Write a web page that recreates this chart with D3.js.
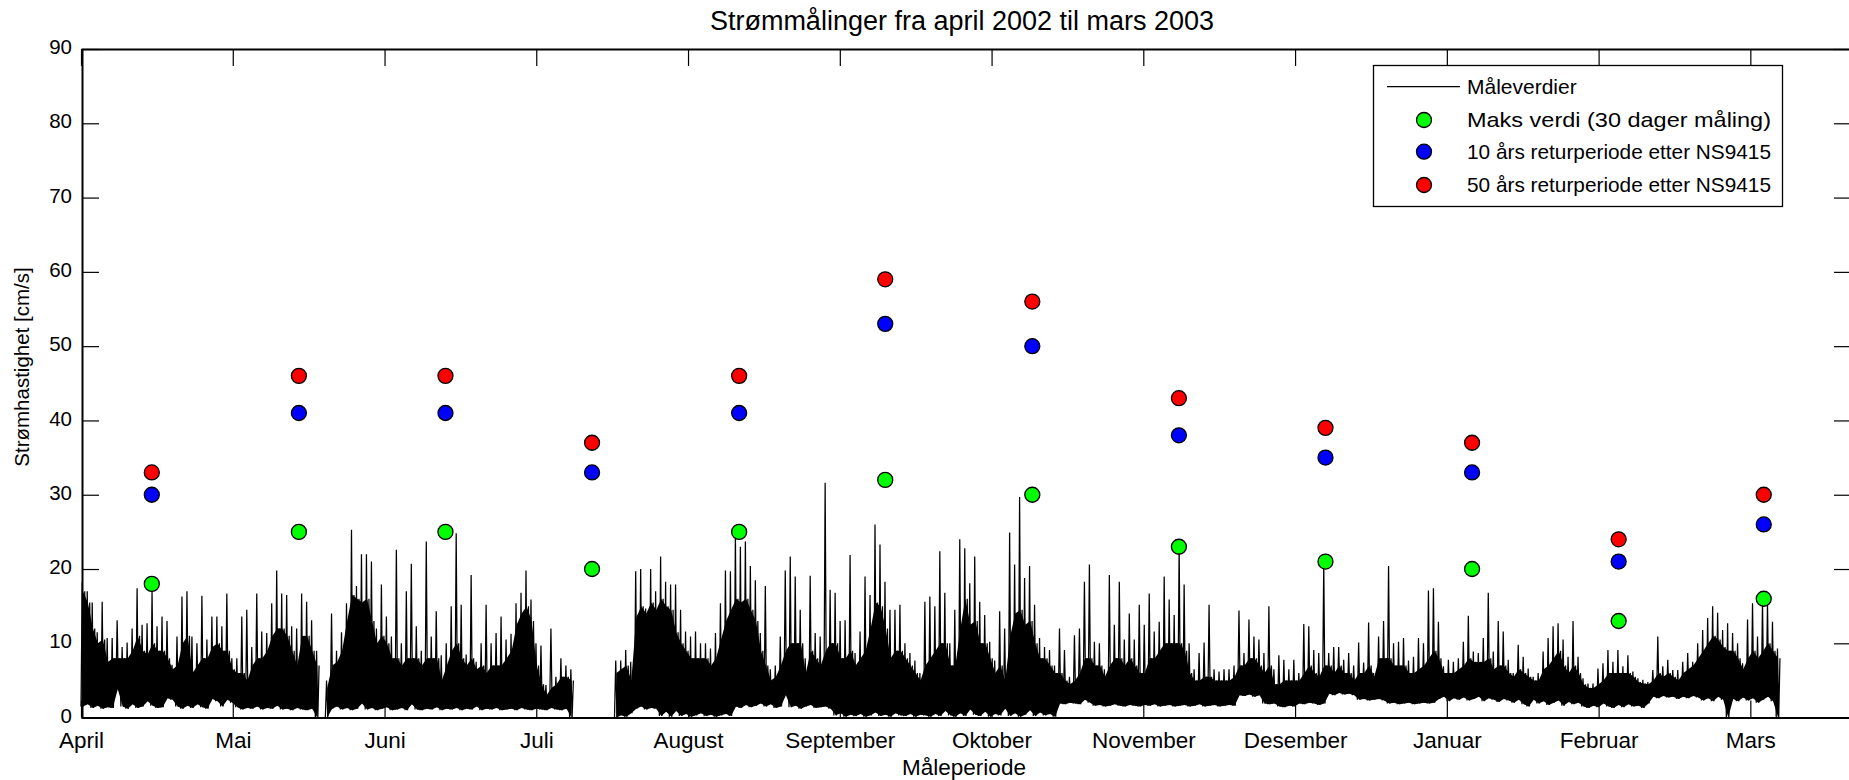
<!DOCTYPE html>
<html><head><meta charset="utf-8">
<script src="https://cdn.jsdelivr.net/npm/d3@7"></script>
<style>body{margin:0;background:#fff}svg{display:block}text{font-family:"Liberation Sans",Arial,Helvetica,sans-serif;fill:#000}</style>
</head><body>
<svg id="c" width="1849" height="780"></svg>
<script>
// ---------- data ----------
const manedsNavn = ["April","Mai","Juni","Juli","August","September","Oktober","November","Desember","Januar","Februar","Mars"];
const manedsStart = [0,30.44,60.88,91.31,121.75,152.19,182.63,213.06,243.5,273.94,304.38,334.81];
const yTicks = [0,10,20,30,40,50,60,70,80,90];

// daily readings of the measured current (cm/s), day 0 = 1 April 2002
const dagMaks = [18.3,17,15.5,11.5,15.6,10.7,10.7,13.1,9.5,10.1,
12,17.4,12.5,12.7,17,12.3,13.6,13,7.1,10.9,
16.3,17,10.9,10,16.4,10.5,13.6,13.6,12.3,16.7,
8,8,13.6,14.5,9.5,16.7,11.6,11.4,15.4,19.8,
16.7,16.5,12.3,12,16.7,15.6,13.1,9,null,5,
14,9,11.5,15.4,25.3,17.7,22,22,21,12,
17.9,13.6,10.9,22.6,10,17,20.7,12.3,9,23.7,
10.9,14.3,8.4,10,15,24.8,15.2,8.5,19.2,7.5,
10,15.2,10,11.4,13.6,10.5,11.3,15.4,16.8,19.8,
15.9,10,9.7,4.4,12,5.5,8,7,6.5,null,
null,null,null,null,null,null,null,7.7,7.7,9.1,
7.5,19.7,20,14.7,20,17,21.7,18.3,17.9,17.9,
14.5,11.6,10.9,11.6,10,10,9.3,11.4,15.4,19.8,
19.7,24.5,23,23.7,20.4,18.5,11.4,17.7,6.5,7,
10.9,19.8,21.7,19,14.5,8,19.1,11.4,10.9,31.6,
17.2,16.8,13,13.1,21.9,8.7,11.6,19,16.5,26,
23.3,18.3,14.5,14.5,15.2,10,8.7,7.7,6,15.6,
16.3,15,22.4,16.8,10,14.5,24,22.8,18.1,21.7,
15.6,13.8,10.2,7.7,14.3,12,24.9,20.6,29.7,18.8,
20.4,15.2,10.7,9.5,9.1,7,12,9.1,5.5,11.1,
12,18.3,20.6,10.2,10,6.5,19.2,12.5,18.3,10.5,
14,10.5,15.2,12.5,16.7,11.6,12.9,19,15.9,13.8,
23.1,17.9,10,6.5,8.7,10.1,15.2,6.5,6.2,6.5,
6.5,7,14.4,8.7,13.2,10.9,10.5,8.7,15,6.5,
8.4,7.8,6.5,7.8,6,12.6,12.3,9.1,8.7,20.8,
8.7,9.5,9.5,7.8,8.7,7,10.1,7.4,12.8,6,
10.9,13,20.4,10,10.2,10.7,7.7,8.2,10.7,10,
17.1,17.4,12.9,6.9,7.8,7.5,8,10.2,13.7,8.9,
8.7,10.7,16.8,8.9,13,11.6,7.8,6,9.8,8.2,
6.6,5.5,6,8.9,10.7,12.3,12.7,10.5,8.2,13,
8.2,5.3,4.6,4.6,6.6,7.3,9.1,7.5,9.1,6.9,
8.4,6.2,5.3,5.1,4.8,6.4,10.9,6.9,7.8,6.4,
6.4,7.5,8.7,7.5,10,11.8,13.4,15,14.1,11.8,
12.7,11.4,10,7.3,13.2,15.4,10.9,15.6,15.4,12.9,9.3];

const dagNiva = [17,15.5,12,10,10.5,7.5,8,8,8,8,
9,11,9,8.5,10,9,9,8,6.5,7,
10,11,6,7,8,8,9.5,10,9,9,
6.5,6,6,5,7,8,8,9,11,12,
12,11,9,7,11,11,9,7,null,4,
7,7.5,9,13,16.5,16,15.5,16,13,10,
11,10,8,8,7,8,8,8,7,8,
8,8,5,7,9,10,8,7,8,6.5,
7,6,7,7,7,8,9,12.5,14,15,
13,7,4.5,3,4,4.5,5.5,5.5,5,null,
null,null,null,null,null,null,null,6,6.5,7,
5,13.5,15,14,15.5,14.5,16,15,14.5,11.5,
10,9,8,8,8,8,7,8,10.5,13,
14.5,16,15.5,16,14.5,13,9,7,5,5.5,
7,9,10,10,10,6,9,8,7,9,
10,10,8,8,9,7,8,9,12,15.5,
15,12,8,9,9,8,7,6,5,7,
8,9,10,10,7,7,12,16,12.5,13,
10,10,8,6,7,5,11,14,14.5,12.5,
13,10,8,8,7,6,6,5,4.5,5,
6,8,8,7,7,5.5,7,8,8,7,
8,7,6,6,8,8,9,10,10,10,
10,9,6,5,5,5.5,5.5,5,5,5,
5,5.5,7,7,8,8,7,6,7,4.5,
4.5,5,5,5,5,6,7,6,5.5,7,
7,6,7,6,6,5,6,6,7,5.5,
8,8,8,7,7,7,6,6,6.5,7,
8,9,8,6,6,6,6.5,7,8,7.5,
7.5,7.5,8,6.5,7,7,6,5.5,6.5,6,
5.5,5,5,6.5,7,8,9,7,6,7,
6,4.5,4,4,4.5,5,6,6,6,6,
6,5.5,4.8,4.6,4.5,5,6,5.5,6,5.5,
5,6,6.5,7,8,9,10,11,10.5,9.5,
9,9,8,6.5,8,9,8,9,10,9,8];

const dagMin = [1.5,1.8,1.3,1.6,1.2,1.4,1.3,3.8,1.5,1.2,
1.8,1.3,1.5,2.2,1.6,1.3,1.4,2.6,2.4,1.5,
1.2,1.6,1.3,1.8,1.4,1.2,2.5,2.2,1.5,2.4,
2,1.4,1.1,1.3,1.2,1.5,1.1,1.3,1.2,1.6,
1.1,1.2,1,1.3,1.1,1,1.2,0,null,0,
1.2,1.5,1.1,1.3,1,1.2,1.9,1.1,1.3,1,
1.2,1.4,1,1.1,1.3,1,1.8,1.1,1,1.2,
1.1,1.4,1,1.2,1.1,1.3,1,1.2,1.1,1.5,
1,1.2,1.1,1.3,1,1.1,1.2,1,1.3,1.1,
1,1.2,1.1,1,1.3,1.1,1,1.2,0,null,
null,null,null,null,null,null,null,0,0.3,0.1,
0.6,1.2,1.5,1.1,1.3,1.2,0.2,0.8,0.1,0.9,
0.2,0.5,0.1,0.3,0.6,0.2,0.4,0.1,0.3,0.5,
0.2,1.5,1.3,1.7,1.4,1.6,1.9,1.5,1.8,1.3,
1.5,3,1.4,1.6,1.2,1.5,1.7,1.3,1.4,1.5,
1.2,0.3,0.6,0.1,0.4,0.2,0.5,0.1,0.3,0.7,
0.2,0.4,0.1,0.6,0.3,0.2,0.5,0.1,0.4,0.3,
0.1,0.5,0.2,0.9,0.3,0.1,0.6,0.2,1.1,0.4,
0.2,0.8,0.1,0.5,0.3,1.2,0.2,0.6,0.1,0.4,
1,0.2,0.7,0.3,0.5,0.1,1.9,1.8,2,1.9,
1.8,2.4,2,1.6,1.7,1.5,1.6,1.8,1.6,1.5,
1.7,1.6,1.5,1.7,1.6,1.8,1.5,1.6,1.7,1.5,
1.6,1.7,1.5,1.6,1.8,1.5,1.6,1.7,1.5,1.6,
1.7,1.6,3,2.9,3.1,2.8,3,1.9,1.8,1.9,
1.5,1.4,1.6,1.5,1.9,1.8,2,1.9,1.7,1.9,
3.2,3,3.3,3.1,3.2,3,2.4,2.5,2.3,2.4,
2.5,2.3,1.9,2,1.8,1.9,2,1.8,1.9,2,
1.9,2,2.5,2.8,2.2,2.6,2.4,2.7,2.3,2.5,
2.8,2.2,2.6,2.4,2.1,2.5,2.3,2,2.4,1.8,
1.5,2.4,1.9,2.2,1.7,2,2.3,1.6,2.1,1.8,
2,1.5,1.3,1.6,1.4,1.9,1.5,1.3,1.7,1.4,
1.8,1.5,1.6,1.3,1.9,2.8,2.6,2.9,2.7,2.8,
2.5,2.8,2.6,2.9,2.7,2.3,2.6,2.2,2.8,2.4,
0,2.5,2.2,2.7,2.3,2.6,2,2.4,2.8,2.2,0];

// 30-day windows: centre day and values
const punktDag = [14.2,43.7,73.1,102.5,132.0,161.3,190.8,220.2,249.6,279.0,308.4,337.5];
const maksVerdi = [18,25,25,20,25,32,30,23,21,20,13,16];
const retur10 = [30,41,41,33,41,53,50,38,35,33,21,26];
const retur50 = [33,46,46,37,46,59,56,43,39,37,24,30];

const legendTekst = ["Måleverdier","Maks verdi (30 dager måling)","10 års returperiode etter NS9415","50 års returperiode etter NS9415"];

// ---------- layout ----------
const L = 81, R = 1851, T = 49, B = 717.6;
const svg = d3.select("#c");
const x = d3.scaleLinear().domain([0, 355]).range([L, R]);
const y = d3.scaleLinear().domain([0, 90]).range([B, T]);
const TK = 17;

// measured series: solid band of the dense readings + zigzag line through the readings
const dager = d3.range(dagMaks.length);
const band = d3.area().defined(i => dagMaks[i] != null)
  .x(i => x(i + 0.375)).y0(i => y(dagMin[i])).y1(i => y(dagNiva[i]));
svg.append("path").attr("d", band(dager)).attr("fill", "#000");

const pts = [];
dager.forEach(i => {
  if (dagMaks[i] == null) { pts.push([i, null]); return; }
  pts.push([i, dagMin[i]], [i + 0.25, dagMaks[i]], [i + 0.5, dagMin[i]], [i + 0.75, dagNiva[i]]);
});
const line = d3.line().defined(d => d[1] != null).x(d => x(d[0])).y(d => y(d[1]));
svg.append("path").attr("d", line(pts)).attr("fill", "none").attr("stroke", "#000").attr("stroke-width", 1.25);

// axes
const gb = svg.append("g").attr("transform", `translate(0,${B})`)
  .call(d3.axisBottom(x).tickValues(manedsStart).tickFormat((d, i) => manedsNavn[i]).tickSizeInner(-TK).tickSizeOuter(0).tickPadding(14));
const gt = svg.append("g").attr("transform", `translate(0,${T})`)
  .call(d3.axisTop(x).tickValues(manedsStart).tickFormat("").tickSizeInner(-TK).tickSizeOuter(0));
const gl = svg.append("g").attr("transform", `translate(${L + 1},0)`)
  .call(d3.axisLeft(y).tickValues(yTicks).tickSizeInner(-TK).tickSizeOuter(0).tickPadding(10));
const gr = svg.append("g").attr("transform", `translate(${R},0)`)
  .call(d3.axisRight(y).tickValues(yTicks).tickFormat("").tickSizeInner(-TK).tickSizeOuter(0));
[gb, gt, gl, gr].forEach(g => {
  g.select(".domain").attr("stroke", "#000").attr("stroke-width", 2);
  g.selectAll(".tick line").attr("stroke", "#000").attr("stroke-width", 1.2);
  g.selectAll("text").attr("font-family", null).style("fill", "#000");
});
gb.selectAll("text").attr("font-size", 22.5);
gl.selectAll("text").attr("font-size", 20.5).attr("y", -2);

// markers
const serier = [[maksVerdi, "#00ff00"], [retur10, "#0000ff"], [retur50, "#ff0000"]];
serier.forEach(([vals, col]) => {
  svg.append("g").selectAll("circle").data(vals).join("circle")
    .attr("cx", (d, i) => x(punktDag[i])).attr("cy", d => y(d)).attr("r", 7.5)
    .attr("fill", col).attr("stroke", "#000").attr("stroke-width", 1.3);
});

// titles
svg.append("text").attr("x", 962).attr("y", 30).attr("text-anchor", "middle").attr("font-size", 27)
  .text("Strømmålinger fra april 2002 til mars 2003");
svg.append("text").attr("x", 964).attr("y", 775).attr("text-anchor", "middle").attr("font-size", 22.5)
  .text("Måleperiode");
svg.append("text").attr("transform", "translate(29,367) rotate(-90)").attr("text-anchor", "middle").attr("font-size", 20.5)
  .text("Strømhastighet [cm/s]");

// legend
const lg = svg.append("g");
lg.append("rect").attr("x", 1373.5).attr("y", 65.5).attr("width", 409).attr("height", 141)
  .attr("fill", "#fff").attr("stroke", "#000").attr("stroke-width", 1.3);
const rows = [86.7, 120, 151.7, 185];
lg.append("line").attr("x1", 1387).attr("x2", 1460).attr("y1", rows[0]).attr("y2", rows[0]).attr("stroke", "#000").attr("stroke-width", 1.2);
serier.forEach(([v, col], i) => {
  lg.append("circle").attr("cx", 1424).attr("cy", rows[i + 1]).attr("r", 7.5).attr("fill", col).attr("stroke", "#000").attr("stroke-width", 1.3);
});
legendTekst.forEach((t, i) => {
  const tx = lg.append("text").attr("x", 1467).attr("y", rows[i]).attr("dy", "0.35em").attr("font-size", 21).text(t);
  if (i > 0) tx.attr("textLength", 304).attr("lengthAdjust", "spacingAndGlyphs");
});
</script>
</body></html>
